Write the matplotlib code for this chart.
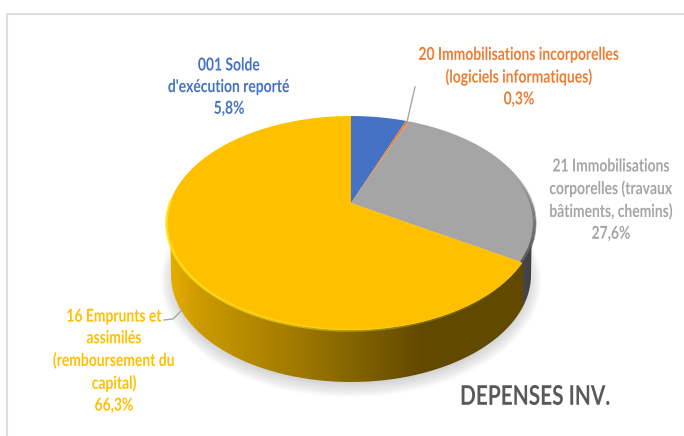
import numpy as np
import matplotlib
matplotlib.use("Agg")
import matplotlib.pyplot as plt
from matplotlib.collections import LineCollection
from matplotlib.colors import to_rgb
from matplotlib.patches import Ellipse, PathPatch
from matplotlib.path import Path
from matplotlib.patheffects import AbstractPathEffect
from matplotlib.transforms import Affine2D, Transform

# Data
categories = ["001 Solde\nd'exécution reporté",
              "20 Immobilisations incorporelles\n(logiciels informatiques)",
              "21 Immobilisations\ncorporelles (travaux\nbâtiments, chemins)",
              "16 Emprunts et\nassimilés\n(remboursement du\ncapital)"]
values = [5.8, 0.3, 27.6, 66.3]
value_labels = ["5,8%", "0,3%", "27,6%", "66,3%"]
colors = ["#4472C4", "#ED7D31", "#A5A5A5", "#FFC000"]
title = "DEPENSES INV."

# Layout (pixel space of the picture)
W, H = 684, 436
APEX_X, APEX_Y = 351, 203
K, BY, CX = 0.1869, -65.3, 181.2
FLOOR_Y, FLOOR_RX, FLOOR_RY = 275, 180, 107
label_pos = [(229, 87), (519, 77), (611, 200), (114, 361)]

plt.rcParams["font.family"] = ["Lato", "DejaVu Sans"]


class Perspective(Transform):
    input_dims = output_dims = 2
    has_inverse = False
    is_separable = False

    def transform_non_affine(self, xy):
        xy = np.asarray(xy, float)
        d = 1 + K * xy[:, 1]
        return np.column_stack([APEX_X + CX * xy[:, 0] / d,
                                (APEX_Y + BY * xy[:, 1]) / d])

    def transform_path_non_affine(self, path):
        s = Affine2D().scale(800)
        polys = path.to_polygons(s, closed_only=True)
        verts = np.vstack(polys) / 800
        return Path(self.transform_non_affine(verts), closed=True)


class TallText(AbstractPathEffect):
    """Stretches text vertically about a picture row (the source font is condensed and tall)."""

    def __init__(self, y_pixel, factor):
        super().__init__()
        self.cy = H - y_pixel
        self.factor = factor

    def draw_path(self, renderer, gc, tpath, affine, rgbFace=None):
        stretch = Affine2D().translate(0, -self.cy).scale(1, self.factor).translate(0, self.cy)
        renderer.draw_path(gc, tpath, affine + stretch, rgbFace)


persp = Perspective()


def rim(theta_deg):
    t = np.radians(theta_deg)
    return persp.transform_non_affine(np.column_stack([np.sin(t), np.cos(t)]))


fig = plt.figure(figsize=(W / 100, H / 100), dpi=100)
ax = fig.add_axes([0, 0, 1, 1])

wedges, _ = ax.pie(values, colors=colors, startangle=90, counterclock=False,
                   wedgeprops={"linewidth": 0, "zorder": 5})
for w in wedges:
    w.set_transform(persp + ax.transData)
ax.set_aspect("auto")
ax.set_xlim(0, W)
ax.set_ylim(H, 0)
ax.axis("off")

# frame
ax.plot([7, 7, W], [H, 14, 14], color="#DEDEDE", lw=1.5, zorder=0)

# soft shadow under the cake
for i in range(10):
    ax.add_patch(Ellipse((351, 281), 2 * (FLOOR_RX + 10 - i * 1.5), 2 * (FLOOR_RY + 9 - i * 1.5),
                         color="#808080", alpha=0.035, lw=0, zorder=1))

# side wall with horizontal gradient
front = np.linspace(90, 270, 240)
top_edge = rim(front)
t = np.radians(front[::-1])
floor_edge = np.column_stack([351 + FLOOR_RX * np.sin(t), FLOOR_Y - FLOOR_RY * np.cos(t)])
wall = Path(np.vstack([top_edge, floor_edge]), closed=False)
boundary_deg = 360 * sum(values[:3]) / sum(values)
bx = rim(np.array([boundary_deg]))[0, 0]

xs = np.arange(160, 545)
stops_x = [166, 200, 300, 420, bx - 0.5, bx + 0.5, 536]
stops_c = ["#E8B000", "#CC9A00", "#9E7800", "#634A00", "#614900", "#47474B", "#3A3A40"]
rgb = np.array([to_rgb(c) for c in stops_c])
grad = np.stack([np.interp(xs, stops_x, rgb[:, i]) for i in range(3)], axis=-1)[None, :, :]
im = ax.imshow(grad, extent=(160, 545, 400, 200), aspect="auto", zorder=2)
im.set_clip_path(PathPatch(wall, transform=ax.transData))
ax.set_xlim(0, W)
ax.set_ylim(H, 0)

# bevel highlight along the lower yellow rim, fading at both ends
th = np.linspace(boundary_deg, 272, 220)
pts = rim(th)
segs = np.stack([pts[:-1], pts[1:]], axis=1)
frac = np.linspace(0, 1, len(segs))
col = np.zeros((len(segs), 4))
col[:, :3] = to_rgb("#FFE31A")
col[:, 3] = np.clip(frac * 1.6 - 0.1, 0, 1) * 0.85
ax.add_collection(LineCollection(segs + np.array([0, 0.4]), colors=col, linewidths=2.0, zorder=6))

# shading along the grey rim
th = np.linspace(75, boundary_deg, 80)
pts = rim(th)
segs = np.stack([pts[:-1], pts[1:]], axis=1)
col = np.zeros((len(segs), 4))
col[:, :3] = to_rgb("#404045")
col[:, 3] = np.linspace(0, 0.85, len(segs))
ax.add_collection(LineCollection(segs + np.array([-0.8, 0]), colors=col, linewidths=2.6, zorder=6))

# leader lines
ax.plot([415, 407], [87, 122], color="#A6A6A6", lw=1, zorder=7)
ax.plot([164, 173, 182], [320, 319, 310], color="#A6A6A6", lw=1, zorder=7)

# labels
for cat, val, col_, (x, y) in zip(categories, value_labels, colors, label_pos):
    ax.text(x, y, f"{cat}\n{val}", color=col_, ha="center", va="center",
            fontsize=10, fontweight="bold", linespacing=1.49, zorder=8,
            path_effects=[TallText(y, 1.28)])
ax.text(535, 397, title, color="#595959", ha="center", va="center",
        fontsize=15, fontweight="bold", zorder=8, path_effects=[TallText(397, 1.3)])

fig.savefig("out.png", dpi=100)
